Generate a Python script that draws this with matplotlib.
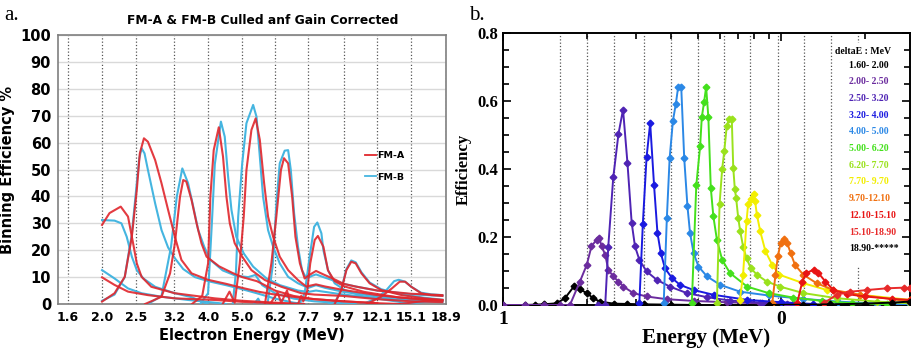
import matplotlib.pyplot as plt
from matplotlib.ticker import NullLocator, MultipleLocator, FixedLocator, NullFormatter, FormatStrFormatter
from matplotlib.patches import Rectangle
from matplotlib.lines import Line2D

bin_edges = [1.6, 2.0, 2.5, 3.2, 4.0, 5.0, 6.2, 7.7, 9.7, 12.1, 15.1, 18.9]
bin_labels = ['1.6', '2.0', '2.5', '3.2', '4.0', '5.0', '6.2', '7.7', '9.7', '12.1', '15.1', '18.9']

# ---- panel a: (energy MeV, binning efficiency %)
fma_16 = [(2.0, 9.9), (2.17, 7.1), (2.37, 4.6), (2.7, 3.3), (3.22, 2.1), (4.18, 1.5), (5.0, 0.8), (6.2, 0.3), (7.0, 0)]
fma_20 = [(2.0, 29.4), (2.1, 33.8), (2.26, 36.2), (2.37, 32.5), (2.45, 22.6), (2.51, 15.1), (2.59, 10.1),
          (2.76, 6.4), (3.22, 4.0), (4.18, 2.1), (5.0, 1.2), (6.2, 0.5), (7.5, 0)]
fma_25 = [(2.0, 0.9), (2.17, 4.0), (2.32, 10.1), (2.43, 25), (2.51, 42.4), (2.56, 56), (2.63, 61.6), (2.7, 60.3),
          (2.83, 53.5), (2.95, 44.9), (3.08, 35), (3.22, 25), (3.36, 16.4), (3.59, 11.4), (4.0, 9), (4.5, 7.5),
          (5.0, 6), (5.6, 4.5), (6.2, 3.5), (7.7, 2), (9.7, 1), (12.1, 0.3)]
fma_32 = [(2.65, 0), (2.95, 2.7), (3.12, 11.4), (3.22, 22.6), (3.33, 39.9), (3.4, 46.1), (3.47, 45.5), (3.59, 38.7),
          (3.71, 30), (3.83, 22.6), (3.96, 17.6), (4.3, 14), (4.7, 11.5), (5.0, 10), (5.5, 8.5), (5.7, 7.5),
          (6.2, 5), (7.0, 3), (8.0, 1.8), (9.7, 1.0), (12.1, 0.3), (14, 0)]
fma_40 = [(3.6, 0), (3.85, 3), (4.0, 15.1), (4.06, 39.9), (4.15, 57.2), (4.29, 65.7), (4.41, 54.8), (4.51, 39.9),
          (4.61, 30), (4.76, 22.6), (5.0, 17.6), (5.31, 12.6), (5.8, 8.9), (6.46, 6.4), (7.36, 4.0), (8.03, 3.5),
          (9.7, 3.0), (12.1, 1.8), (15.1, 1.0), (18.5, 0.7)]
fma_50 = [(4.4, 0), (4.6, 4.6), (4.76, 0.5), (4.92, 15.1), (5.05, 32.5), (5.14, 49.8), (5.31, 64.7), (5.46, 69),
          (5.61, 61), (5.77, 44.9), (5.92, 32.5), (6.12, 25), (6.39, 17.6), (6.75, 12.6), (7.2, 8.9), (7.6, 6.5),
          (8.1, 7.3), (8.6, 6.5), (9.7, 5.2), (12.1, 3.3), (15.1, 2.0), (18.5, 1.5)]
fma_62 = [(5.8, 0), (6.05, 15.1), (6.25, 32.5), (6.44, 49.8), (6.57, 54.2), (6.75, 52.3), (6.93, 39.9), (7.08, 25),
          (7.29, 15.1), (7.52, 9.5), (7.8, 11), (8.1, 12.3), (8.5, 11), (9.2, 9), (9.7, 7.5), (10.5, 6.5),
          (12.1, 5), (15.1, 3.8), (18.5, 3.3)]
fma_77 = [(6.0, 0), (6.3, 4.3), (6.45, 0.5), (6.7, 5), (6.85, 0), (7.2, 0), (7.35, 3), (7.45, 1), (7.55, 2.5),
          (7.65, 5), (7.8, 15.1), (8.03, 23.8), (8.2, 25.3), (8.5, 21.3), (8.76, 12.5), (9.15, 8.5), (9.77, 6.5),
          (11.1, 4.5), (13.8, 2.5), (18.5, 1.2)]
fma_97 = [(9.15, 0), (9.56, 5.2), (9.88, 12.6), (10.2, 15.7), (10.5, 15.1), (10.9, 11.4), (11.5, 7.7),
          (12.4, 5.2), (14.2, 3.3), (16.5, 2.1), (18.5, 1.5)]
fma_121 = [(11.3, 0), (12.4, 2.7), (13.3, 5.8), (14.0, 8.3), (14.5, 8.3), (15.1, 6.4), (16.1, 4.0), (17.2, 3.3),
           (18.5, 3.0)]
fma_151 = [(14.0, 0), (15.1, 0.5), (16.5, 1.2), (18.5, 1.5)]

fmb_16 = [(2.0, 12.6), (2.17, 9.5), (2.37, 5.8), (2.59, 4.0), (2.95, 2.7), (3.51, 1.5), (4.18, 0.5), (4.5, 0)]
fmb_20 = [(2.0, 31.2), (2.17, 31), (2.27, 30), (2.35, 25), (2.43, 17.6), (2.51, 12.6), (2.62, 9.5), (2.83, 6.4),
          (3.22, 4.0), (3.6, 2.5), (3.9, 0.5), (4.0, 0)]
fmb_25 = [(2.0, 1.2), (2.17, 3.5), (2.32, 10), (2.43, 26), (2.51, 45), (2.55, 54), (2.59, 57.9), (2.64, 56),
          (2.7, 49.8), (2.83, 37.4), (2.95, 27.5), (3.08, 21), (3.22, 17), (3.4, 13), (3.67, 10), (4.0, 8.5),
          (4.5, 7), (5.0, 5.5), (5.5, 4), (6.2, 2), (7.0, 0.5), (7.5, 0)]
fmb_32 = [(2.7, 0), (2.95, 3), (3.14, 21.3), (3.26, 39.9), (3.38, 50.4), (3.51, 44.9), (3.63, 36.2), (3.75, 27.5),
          (3.9, 21.3), (4.06, 16.4), (4.4, 12.5), (4.8, 10.5), (5.2, 10), (5.45, 10.8), (5.7, 7), (6.2, 4),
          (7.0, 2), (8.0, 1), (9.7, 0.3), (10.5, 0)]
fmb_40 = [(3.8, 0), (4.0, 4), (4.1, 30), (4.18, 52), (4.35, 67.8), (4.46, 62.2), (4.56, 47.3), (4.66, 35),
          (4.81, 25), (5.05, 18.8), (5.37, 13.9), (5.86, 9.5), (6.4, 7), (7.2, 5), (7.7, 4.5), (8.1, 5),
          (9.7, 3.5), (12.1, 2.2), (15.1, 1.3), (18.5, 0.8)]
fmb_50 = [(4.7, 0), (4.8, 12), (4.87, 32.5), (5.0, 52.3), (5.14, 67.2), (5.37, 74), (5.49, 69.6), (5.61, 54.8),
          (5.73, 39.9), (5.92, 27.5), (6.12, 21.3), (6.39, 15.1), (6.75, 10.1), (7.2, 7.7), (7.7, 6), (8.1, 7),
          (8.6, 6), (9.7, 4.5), (12.1, 2.8), (15.1, 1.8), (18.5, 1.3)]
fmb_62 = [(5.4, 0), (5.55, 2), (5.65, 0), (5.9, 0), (6.1, 14), (6.25, 37), (6.39, 52.3), (6.6, 57), (6.75, 57.2),
          (6.87, 49.8), (7.02, 33.7), (7.2, 21.3), (7.39, 12.6), (7.61, 9.5), (7.9, 10.5), (8.1, 11), (8.5, 10),
          (9.2, 8.5), (9.7, 7.5), (10.5, 6.5), (12.1, 5), (15.1, 3.6), (18.5, 3.0)]
fmb_77 = [(7.0, 0), (7.3, 0.5), (7.52, 4), (7.77, 17.6), (8.0, 28.7), (8.17, 30.3), (8.39, 26.3), (8.5, 20),
          (8.76, 12.6), (9.15, 7.7), (9.77, 5.2), (11.1, 2.7), (13.8, 0.9), (15.0, 0)]
fmb_97 = [(8.8, 0), (9.2, 1), (9.56, 5.5), (9.88, 13), (10.2, 16.2), (10.5, 15.5), (10.9, 11.8), (11.5, 8),
          (12.4, 5.5), (14.2, 3.5), (16.5, 2.3), (18.5, 1.6)]
fmb_121 = [(11.0, 0), (12.0, 2), (12.8, 5), (13.5, 8.5), (13.9, 9.0), (14.5, 8.3), (15.1, 6.4), (16.1, 4.2),
           (17.2, 3.6), (18.5, 3.3)]
fmb_151 = [(14.0, 0), (15.1, 0.3), (16.5, 0.8), (18.5, 1.0)]

fma_curves = [fma_16, fma_20, fma_25, fma_32, fma_40, fma_50, fma_62, fma_77, fma_97, fma_121, fma_151]
fmb_curves = [fmb_16, fmb_20, fmb_25, fmb_32, fmb_40, fmb_50, fmb_62, fmb_77, fmb_97, fmb_121, fmb_151]

# ---- panel b: (energy MeV, efficiency)
eff_160 = [(1.0, 0), (1.2, 0), (1.3, 0.001), (1.4, 0.002), (1.56, 0.005), (1.67, 0.02), (1.8, 0.055), (1.89, 0.046),
           (2.0, 0.035), (2.11, 0.02), (2.23, 0.01), (2.5, 0.004), (2.8, 0.003), (3.2, 0.002), (4.0, 0.001), (5.0, 0)]
eff_200 = [(1.0, 0), (1.2, 0), (1.4, 0), (1.6, 0), (1.74, 0), (1.89, 0.069), (2.0, 0.118), (2.08, 0.173),
           (2.17, 0.192), (2.22, 0.197), (2.26, 0.173), (2.33, 0.148), (2.39, 0.104), (2.49, 0.084), (2.6, 0.069),
           (2.71, 0.054), (2.94, 0.035), (3.28, 0.025), (3.88, 0.017), (4.84, 0.012), (6.37, 0.008), (8.4, 0.005),
           (10.5, 0.002)]
eff_250 = [(2.2, 0), (2.33, 0), (2.39, 0.172), (2.49, 0.375), (2.6, 0.503), (2.7, 0.575), (2.8, 0.419), (2.9, 0.242),
           (2.98, 0.173), (3.09, 0.133), (3.28, 0.099), (3.57, 0.074), (3.98, 0.054), (4.58, 0.035), (5.41, 0.023),
           (6.54, 0.013), (8.5, 0.007), (11, 0.003)]
eff_320 = [(3.09, 0.005), (3.18, 0.237), (3.28, 0.434), (3.38, 0.535), (3.49, 0.352), (3.59, 0.212), (3.69, 0.153),
           (3.82, 0.108), (4.05, 0.079), (4.33, 0.059), (4.84, 0.044), (5.71, 0.03), (7.54, 0.015), (10, 0.008),
           (13, 0.003)]
eff_400 = [(3.78, 0.005), (3.88, 0.256), (3.97, 0.431), (4.08, 0.542), (4.18, 0.592), (4.26, 0.641), (4.37, 0.641),
           (4.48, 0.431), (4.6, 0.291), (4.7, 0.212), (4.84, 0.153), (5.04, 0.113), (5.41, 0.084), (6.04, 0.059),
           (7.12, 0.039), (9, 0.028), (12, 0.018), (16, 0.01), (22, 0.004), (29, 0.002)]
eff_500 = [(4.77, 0.005), (4.95, 0.352), (5.11, 0.467), (5.18, 0.552), (5.28, 0.597), (5.37, 0.641), (5.47, 0.552),
           (5.58, 0.345), (5.7, 0.261), (5.87, 0.192), (6.13, 0.133), (6.54, 0.094), (7.54, 0.054), (9.0, 0.035),
           (11, 0.022), (14, 0.012), (18, 0.005), (24, 0.002)]
eff_620 = [(5.87, 0.005), (6.0, 0.296), (6.13, 0.399), (6.24, 0.453), (6.37, 0.527), (6.5, 0.547), (6.64, 0.547),
           (6.72, 0.404), (6.81, 0.34), (6.88, 0.316), (7.0, 0.257), (7.12, 0.217), (7.29, 0.172), (7.5, 0.138),
           (7.76, 0.109), (8.17, 0.089), (8.87, 0.069), (9.9, 0.054), (12.0, 0.035), (15.8, 0.02), (22, 0.01),
           (29, 0.005)]
eff_770 = [(7.1, 0.015), (7.29, 0.089), (7.5, 0.246), (7.6, 0.296), (7.77, 0.311), (7.95, 0.325), (8.05, 0.306),
           (8.17, 0.266), (8.4, 0.217), (8.77, 0.158), (9.28, 0.118), (9.84, 0.089), (12.0, 0.064), (14.6, 0.044),
           (19.2, 0.03), (29, 0.015)]
eff_970 = [(9.28, 0.005), (9.53, 0.089), (9.72, 0.143), (9.95, 0.183), (10.2, 0.195), (10.5, 0.183), (10.8, 0.153),
           (11.2, 0.118), (12.0, 0.089), (13.4, 0.064), (15.4, 0.044), (19.2, 0.03), (29, 0.01)]
eff_1210 = [(11.4, 0.005), (11.9, 0.069), (12.3, 0.094), (13.1, 0.104), (13.6, 0.094), (14.4, 0.069), (15.4, 0.044),
            (17.2, 0.032), (20, 0.025), (25, 0.018), (29, 0.015)]
eff_1510 = [(14.2, 0.005), (15.8, 0.03), (17.7, 0.039), (20.3, 0.044), (23.9, 0.049), (27.5, 0.051), (29, 0.05)]
eff_1890 = [(9.0, 0), (12, 0.001), (15, 0.002), (20, 0.004), (25, 0.007), (29, 0.01)]

eff_series = [eff_160, eff_200, eff_250, eff_320, eff_400, eff_500, eff_620, eff_770, eff_970, eff_1210,
              eff_1510, eff_1890]
eff_labels = ['1.60- 2.00', '2.00- 2.50', '2.50- 3.20', '3.20- 4.00', '4.00- 5.00', '5.00- 6.20', '6.20- 7.70',
              '7.70- 9.70', '9.70-12.10', '12.10-15.10', '15.10-18.90', '18.90-*****']
eff_colors = ['#000000', '#6b2c9e', '#4f24b4', '#1a1ae0', '#2b88e6', '#44e01c', '#9ae21c', '#f2ee00',
              '#f07010', '#e81414', '#e82a2a', '#000000']

RED = '#e0262c'
BLUE = '#45b5e0'
sans = 'DejaVu Sans'
serif = 'Liberation Serif'

fig = plt.figure(figsize=(9.14, 3.5), dpi=100)

# ---------------- panel a
axl = fig.add_axes([0.0635, 0.1314, 0.4245, 0.7686])
for c in fmb_curves:
    e, v = zip(*c)
    axl.plot(e, v, color=BLUE, lw=1.5, zorder=3)
for c in fma_curves:
    e, v = zip(*c)
    axl.plot(e, v, color=RED, lw=1.5, alpha=0.9, zorder=4)

axl.set_xscale('log')
axl.set_xlim(1.5, 18.95)
axl.set_ylim(0, 100)
axl.xaxis.set_major_locator(FixedLocator(bin_edges))
axl.xaxis.set_minor_locator(NullLocator())
axl.xaxis.set_minor_formatter(NullFormatter())
axl.set_xticks(bin_edges, labels=bin_labels)
axl.yaxis.set_major_locator(MultipleLocator(10))
axl.grid(axis='y', color='#d9d9d9', lw=1)
axl.grid(axis='x', color='#555555', ls=':', lw=0.9)
axl.tick_params(length=0, pad=5)
for lab in axl.get_xticklabels():
    lab.set_fontfamily(sans); lab.set_fontweight('bold'); lab.set_fontsize(9)
for lab in axl.get_yticklabels():
    lab.set_fontfamily(sans); lab.set_fontweight('bold'); lab.set_fontsize(10.5)
for s in axl.spines.values():
    s.set_color('#7f7f7f'); s.set_linewidth(1.2)
axl.set_xlabel('Electron Energy (MeV)', fontfamily=sans, fontweight='bold', fontsize=10.5, labelpad=3)
axl.set_ylabel('Binning Efficiency %', fontfamily=sans, fontweight='bold', fontsize=10.5, labelpad=4)
fig.text(263 / 914, 1 - 21 / 350, 'FM-A & FM-B Culled anf Gain Corrected', ha='center', va='center',
         fontfamily=sans, fontweight='bold', fontsize=8.8)
handles = [Line2D([], [], color=RED, lw=1.3), Line2D([], [], color=BLUE, lw=1.3)]
leg = axl.legend(handles, ['FM-A', 'FM-B'], loc='upper left', bbox_to_anchor=(0.78, 0.585), frameon=False,
                 handlelength=1.1, handletextpad=0.1, labelspacing=1.3, borderpad=0,
                 prop={'family': sans, 'weight': 'bold', 'size': 6.8})
fig.text(0.005, 1 - 15 / 350, 'a.', fontfamily=serif, fontsize=15, va='center')

# ---------------- panel b
axr = fig.add_axes([0.5503, 0.1286, 0.4453, 0.7771])
for edge in bin_edges:
    axr.axvline(edge, color='#555555', ls=':', lw=0.9, zorder=1)
axr.add_patch(Rectangle((0.816, 0.147), 0.18, 0.816, transform=axr.transAxes, color='white', zorder=1.5))
for s, col in zip(eff_series, eff_colors):
    e, v = zip(*s)
    axr.plot(e, v, color=col, lw=1.4, marker='D', ms=3.4, zorder=3)

axr.set_xscale('log')
axr.set_xlim(1, 29)
axr.set_ylim(0, 0.8)
axr.xaxis.set_major_locator(FixedLocator([1, 10]))
axr.set_xticks([1, 10], labels=['1', '0'])
axr.xaxis.set_minor_locator(FixedLocator([2, 3, 4, 5, 6, 7, 8, 9, 20]))
axr.xaxis.set_minor_formatter(NullFormatter())
axr.yaxis.set_major_locator(MultipleLocator(0.2))
axr.yaxis.set_minor_locator(MultipleLocator(0.05))
axr.yaxis.set_major_formatter(FormatStrFormatter('%.1f'))
axr.tick_params(which='both', direction='in', top=True, right=True, width=1.2)
axr.tick_params(which='major', length=6)
axr.tick_params(which='minor', length=4)
axr.tick_params(axis='x', which='major', pad=4)
for lab in axr.get_xticklabels():
    lab.set_fontfamily(serif); lab.set_fontweight('bold'); lab.set_fontsize(14)
for lab in axr.get_yticklabels():
    lab.set_fontfamily(serif); lab.set_fontweight('bold'); lab.set_fontsize(12)
for s in axr.spines.values():
    s.set_linewidth(1.4)
axr.set_xlabel('Energy (MeV)', fontfamily=serif, fontweight='bold', fontsize=15, labelpad=0)
axr.set_ylabel('Efficiency', fontfamily=serif, fontweight='bold', fontsize=12, labelpad=4)

axr.text(0.815, 0.931, 'deltaE : MeV', transform=axr.transAxes, fontfamily=serif, fontweight='bold',
         fontsize=7, va='center', zorder=5)
for i, (lab, col) in enumerate(zip(eff_labels, eff_colors)):
    axr.text(0.85, 0.882 - 0.0614 * i, lab, transform=axr.transAxes, color=col, fontfamily=serif,
             fontweight='bold', fontsize=7, va='center', zorder=5)
fig.text(0.513, 1 - 15 / 350, 'b.', fontfamily=serif, fontsize=15, va='center')

fig.savefig('out.png', dpi=100)
